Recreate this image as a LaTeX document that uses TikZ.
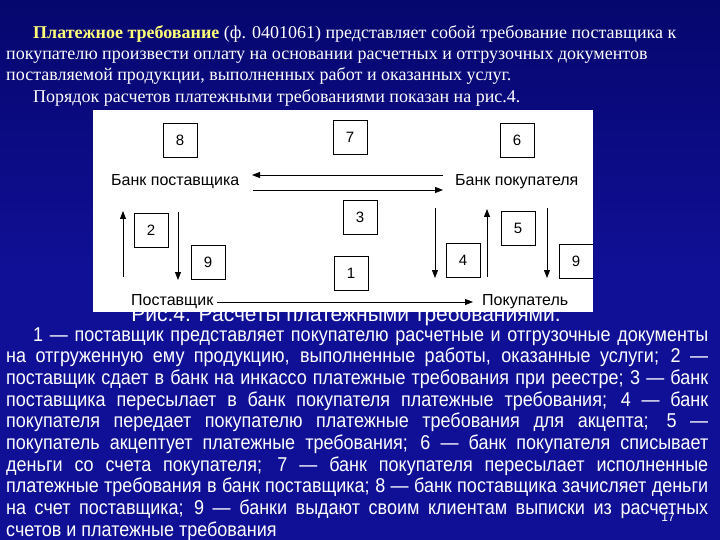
\documentclass[tikz,border=0pt]{standalone}
\usepackage{fontspec}
\setmainfont{Liberation Serif}
\newfontfamily\sansf{Liberation Sans}
\newfontfamily\narrowf[FakeStretch=0.9]{Liberation Sans}
\usetikzlibrary{arrows.meta}
\definecolor{bgblue}{RGB}{16,16,150}
\definecolor{bgdark}{RGB}{6,6,110}
\definecolor{ttlyellow}{RGB}{255,255,120}
\begin{document}
\begin{tikzpicture}[x=1pt,y=-1pt,
  numbox/.style={draw=black,line width=0.7pt,fill=white,minimum width=34pt,minimum height=34pt,inner sep=0pt,font=\sansf\fontsize{15}{15}\selectfont},
  lbl/.style={font=\sansf\fontsize{16}{16}\selectfont,inner sep=1pt},
  arr/.style={-{Triangle[length=8pt,width=6pt]},line width=0.8pt},
  toptext/.style={anchor=base west,inner sep=0pt,text=white,font=\fontsize{18}{20}\selectfont},
  bottext/.style={anchor=base west,inner sep=0pt,text=white,font=\narrowf\fontsize{20}{21}\selectfont}]
\useasboundingbox (0,0) rectangle (720,540);
\shade[top color=bgdark,bottom color=bgblue,middle color=bgblue] (0,0) rectangle (720,540);
% top text
\node[toptext] (t1) at (33,39) {\textcolor{ttlyellow}{\textbf{Платежное требование}} (ф. 0401061) представляет собой требование поставщика к};
\node[toptext] (t2) at (6,60) {покупателю произвести оплату на основании расчетных и отгрузочных документов};
\node[toptext] (t3) at (6,81) {поставляемой продукции, выполненных работ и оказанных услуг.};
\node[toptext] (t4) at (33,103) {Порядок расчетов платежными требованиями показан на рис.4.};
% caption (partly hidden)
\node[anchor=base,inner sep=0pt,text=white,font=\sansf\fontsize{21}{22}\selectfont] (cap) at (346,321) {Рис.4. Расчеты платежными требованиями.};
% diagram panel
\node[fill=white,minimum width=500pt,minimum height=202pt,inner sep=0pt,anchor=north west] (panel) at (93,110) {};
\node[numbox] (b8) at (180,140) {8};
\node[numbox] (b7) at (350,137) {7};
\node[numbox] (b6) at (517,140) {6};
\node[numbox] (b3) at (360,217) {3};
\node[numbox] (b2) at (151,230) {2};
\node[numbox] (b9) at (208,262) {9};
\node[numbox] (b1) at (351,273) {1};
\node[numbox] (b4) at (463,260) {4};
\node[numbox] (b5) at (518,228) {5};
\begin{scope}
\clip (93,110) rectangle (593,312);
\node[numbox] (b9b) at (576,261) {9};
\end{scope}
\node[lbl,anchor=west] (bs) at (110,182) {Банк поставщика};
\node[lbl,anchor=west] (bp) at (454,182) {Банк покупателя};
\node[lbl,anchor=west] (s) at (130,302) {Поставщик};
\node[lbl,anchor=west] (p) at (481,302) {Покупатель};
\coordinate (a7s) at (443,175); \coordinate (a7e) at (252,175);
\coordinate (a3s) at (253,190); \coordinate (a3e) at (443,190);
\draw[arr] (a7s) -- (a7e);
\draw[arr] (a3s) -- (a3e);
\draw[arr] (s.east) ++(3,0) coordinate (a1s) -- (473,302) coordinate (a1e);
\coordinate (u2s) at (123,277); \coordinate (u2e) at (123,211);
\draw[arr] (u2s) -- (u2e);
\coordinate (d9s) at (178,212); \coordinate (d9e) at (178,280);
\draw[arr] (d9s) -- (d9e);
\coordinate (d4s) at (435,208); \coordinate (d4e) at (435,278);
\draw[arr] (d4s) -- (d4e);
\coordinate (u5s) at (487,277); \coordinate (u5e) at (487,209);
\draw[arr] (u5s) -- (u5e);
\coordinate (d9bs) at (547,208); \coordinate (d9be) at (547,278);
\draw[arr] (d9bs) -- (d9be);
% bottom text
\node[bottext] (l1) at (33,341) {\makebox[675pt][s]{1 — поставщик представляет покупателю расчетные и отгрузочные документы}};
\node[bottext] (l2) at (6,362.7) {\makebox[702pt][s]{на отгруженную ему продукцию, выполненные работы, оказанные услуги; 2 —}};
\node[bottext] (l3) at (6,384.4) {\makebox[702pt][s]{поставщик сдает в банк на инкассо платежные требования при реестре; 3 — банк}};
\node[bottext] (l4) at (6,406.1) {\makebox[702pt][s]{поставщика пересылает в банк покупателя платежные требования; 4 — банк}};
\node[bottext] (l5) at (6,427.8) {\makebox[702pt][s]{покупателя передает покупателю платежные требования для акцепта; 5 —}};
\node[bottext] (l6) at (6,449.5) {\makebox[702pt][s]{покупатель акцептует платежные требования; 6 — банк покупателя списывает}};
\node[bottext] (l7) at (6,471.2) {\makebox[702pt][s]{деньги со счета покупателя; 7 — банк покупателя пересылает исполненные}};
\node[bottext] (l8) at (6,492.9) {\makebox[702pt][s]{платежные требования в банк поставщика; 8 — банк поставщика зачисляет деньги}};
\node[bottext] (l9) at (6,514.6) {\makebox[702pt][s]{на счет поставщика; 9 — банки выдают своим клиентам выписки из расчетных}};
\node[bottext] (l10) at (6,536.3) {счетов и платежные требования};
\node[anchor=base,inner sep=0pt,text=white,font=\sansf\fontsize{12}{12}\selectfont] (pg) at (668,521) {17};
\end{tikzpicture}
\end{document}
